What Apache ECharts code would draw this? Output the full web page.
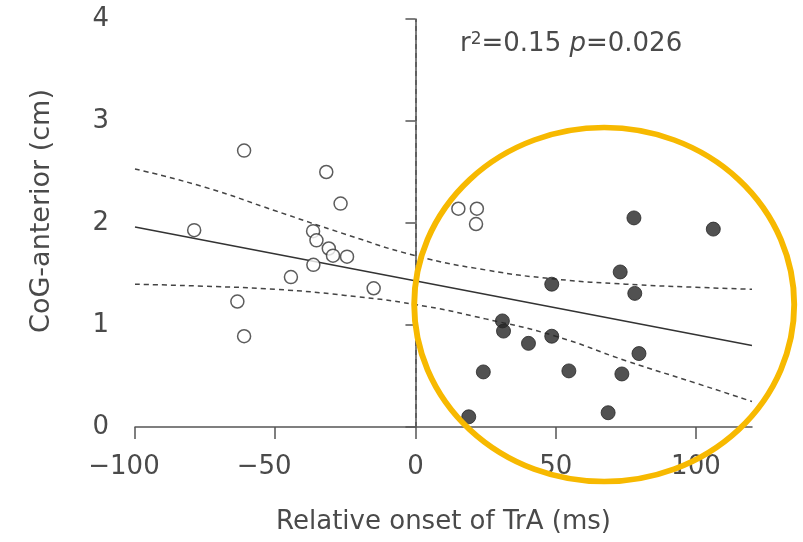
<!DOCTYPE html>
<html>
<head>
<meta charset="utf-8">
<script src="https://cdn.jsdelivr.net/npm/echarts@6/dist/echarts.min.js"></script>
<style>html,body{margin:0;padding:0;background:#fff}#c{width:803px;height:542px}</style>
</head>
<body>
<div id="c"></div>
<script>
// Open circles (early TrA onset)
var openX = [-61.1, -31.8, -26.7, -78.9, -36.5, -35.3, -30.9, -29.4, -24.4, -36.4, -44.4, -14.9, -63.5, -61.1, 15.3, 21.9, 21.6];
var openY = [2.71, 2.50, 2.19, 1.93, 1.92, 1.83, 1.75, 1.68, 1.67, 1.59, 1.47, 1.36, 1.23, 0.89, 2.14, 2.14, 1.99];
// Filled circles (late TrA onset)
var filledX = [77.9, 106.2, 73.0, 48.6, 78.2, 31.0, 31.4, 48.6, 40.3, 79.7, 24.2, 54.7, 73.6, 68.7, 19.0];
var filledY = [2.05, 1.94, 1.52, 1.40, 1.31, 1.04, 0.94, 0.89, 0.82, 0.72, 0.54, 0.55, 0.52, 0.14, 0.10];
// Regression line and confidence band
var fitX = [-100, 120];
var fitY = [1.96, 0.80];
var bandX = [-100, -75, -50, -25, 0, 25, 50, 75, 100, 120];
var upperY = [2.53, 2.35, 2.12, 1.89, 1.68, 1.54, 1.45, 1.40, 1.37, 1.35];
var lowerY = [1.40, 1.38, 1.35, 1.29, 1.20, 1.06, 0.89, 0.65, 0.43, 0.25];
var xTicks = [-100, -50, 0, 50, 100];
var yTicks = [0, 1, 2, 3, 4];
// Highlight annotation (data coords of centre)
var ringCentre = [67.3, 1.20];

function pairs(xs, ys) { return xs.map(function (x, i) { return [x, ys[i]]; }); }

var FONT = '"DejaVu Sans"';
var TXT = '#4a4a4a';
var chart = echarts.init(document.getElementById('c'), null, { renderer: 'canvas' });
var option = {
  animation: false,
  backgroundColor: '#fff',
  grid: { left: 135, right: 51, top: 19, bottom: 115 },
  xAxis: {
    type: 'value', min: -100, max: 120, interval: 50,
    name: 'Relative onset of TrA (ms)', nameLocation: 'middle', nameGap: 82,
    nameTextStyle: { fontSize: 26, color: TXT, fontFamily: FONT },
    axisLine: { onZero: false, lineStyle: { color: '#555', width: 1.5 } },
    axisTick: { show: true, length: 12, customValues: xTicks, lineStyle: { color: '#555', width: 1.5 } },
    axisLabel: { customValues: xTicks, fontSize: 26, color: TXT, fontFamily: FONT, margin: 27,
      formatter: function (v) {
        return v < 0 ? '{neg|\u2212' + Math.abs(v) + '}' : '{pos|' + v + '}';
      },
      rich: {
        neg: { fontSize: 26, color: TXT, fontFamily: FONT, padding: [0, 22, 0, 0] },
        pos: { fontSize: 26, color: TXT, fontFamily: FONT }
      } },
    splitLine: { show: false }
  },
  yAxis: {
    type: 'value', min: 0, max: 4, interval: 1,
    name: 'CoG-anterior (cm)', nameLocation: 'middle', nameGap: 80, nameRotate: 90,
    nameTextStyle: { fontSize: 27, color: TXT, fontFamily: FONT, padding: [0, 0, 0, 24] },
    axisLine: { show: true, lineStyle: { color: '#555', width: 1.5 } },
    axisTick: { show: true, length: 10, customValues: yTicks, lineStyle: { color: '#555', width: 1.5 } },
    axisLabel: { customValues: yTicks, fontSize: 26, color: TXT, fontFamily: FONT, margin: 26 },
    splitLine: { show: false }
  },
  series: [
    { type: 'line', data: pairs(bandX, upperY), symbol: 'none', smooth: true, silent: true,
      lineStyle: { color: '#444', width: 1.5, type: [5, 4] }, z: 2 },
    { type: 'line', data: pairs(bandX, lowerY), symbol: 'none', smooth: true, silent: true,
      lineStyle: { color: '#444', width: 1.5, type: [5, 4] }, z: 2 },
    { type: 'line', data: pairs(fitX, fitY), symbol: 'none', silent: true,
      lineStyle: { color: '#333', width: 1.5 }, z: 2,
      markLine: { silent: true, symbol: 'none', label: { show: false },
        lineStyle: { color: '#555', width: 1.5, type: [5, 4] },
        data: [{ xAxis: 0 }] } },
    { type: 'scatter', data: pairs(openX, openY), symbol: 'circle', symbolSize: 13,
      itemStyle: { color: '#fff', borderColor: '#333', borderWidth: 1.5 }, z: 3 },
    { type: 'scatter', data: pairs(filledX, filledY), symbol: 'circle', symbolSize: 14,
      itemStyle: { color: '#262626', borderColor: '#262626', borderWidth: 1 }, z: 3 }
  ]
};
chart.setOption(option);
var c = chart.convertToPixel({ gridIndex: 0 }, ringCentre);
chart.setOption({
  graphic: [
    { type: 'text', left: 460, top: 31, z: 10,
      style: {
        text: '{n|r}{sup|2}{n|=0.15 }{it|p}{n|=0.026}',
        rich: {
          n: { fontSize: 26, fill: TXT, fontFamily: FONT },
          sup: { fontSize: 17, fill: TXT, fontFamily: FONT, verticalAlign: 'top', padding: [0, 0, 10, 0] },
          it: { fontSize: 26, fill: TXT, fontFamily: FONT, fontStyle: 'italic' }
        }
      } },
    { type: 'circle', x: c[0], y: c[1], scaleX: 190 / 177, scaleY: 1, z: 20, silent: true,
      shape: { cx: 0, cy: 0, r: 177 },
      style: { fill: 'none', stroke: '#F7B900', lineWidth: 5.5 } }
  ]
});
</script>
</body>
</html>
